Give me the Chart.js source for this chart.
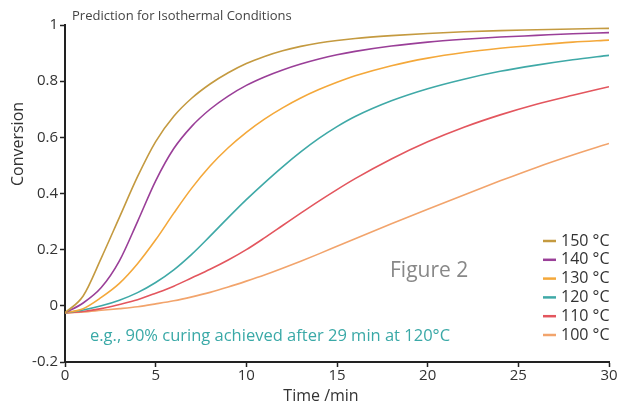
<!DOCTYPE html>
<html>
<head>
<meta charset="utf-8">
<script src="https://cdn.jsdelivr.net/npm/chart.js@4.4.1/dist/chart.umd.min.js"></script>
<style>
  body { margin: 0; background: #fff; }
  canvas { display: block; }
</style>
</head>
<body>
<canvas id="curingChart" width="620" height="405"></canvas>
<script>
// time points (min)
const times = [0, 1, 2, 3, 4, 5, 6, 7, 8, 9, 10, 11, 12, 13, 14, 15, 16, 18, 20, 22, 24, 26, 28, 30];

// conversion, one array per temperature
const conv150 = [-0.025, 0.035, 0.17, 0.315, 0.46, 0.585, 0.675, 0.74, 0.79, 0.83, 0.863, 0.888, 0.908, 0.924, 0.936, 0.945, 0.952, 0.962, 0.970, 0.976, 0.980, 0.983, 0.986, 0.988];
const conv140 = [-0.025, 0.01, 0.065, 0.16, 0.30, 0.445, 0.56, 0.64, 0.70, 0.747, 0.785, 0.815, 0.84, 0.861, 0.879, 0.894, 0.906, 0.925, 0.939, 0.949, 0.957, 0.963, 0.969, 0.973];
const conv130 = [-0.025, -0.01, 0.03, 0.08, 0.15, 0.235, 0.33, 0.42, 0.498, 0.563, 0.618, 0.665, 0.705, 0.74, 0.77, 0.796, 0.819, 0.855, 0.882, 0.902, 0.917, 0.929, 0.939, 0.946];
const conv120 = [-0.025, -0.015, 0.0, 0.02, 0.047, 0.083, 0.128, 0.184, 0.248, 0.314, 0.378, 0.438, 0.495, 0.548, 0.596, 0.638, 0.674, 0.73, 0.773, 0.807, 0.835, 0.857, 0.876, 0.892];
const conv110 = [-0.025, -0.02, -0.01, 0.005, 0.022, 0.045, 0.07, 0.10, 0.13, 0.163, 0.20, 0.242, 0.286, 0.33, 0.373, 0.414, 0.453, 0.523, 0.584, 0.636, 0.68, 0.718, 0.75, 0.78];
const conv100 = [-0.025, -0.022, -0.016, -0.01, -0.003, 0.007, 0.018, 0.032, 0.048, 0.067, 0.088, 0.11, 0.134, 0.159, 0.185, 0.212, 0.239, 0.292, 0.344, 0.395, 0.445, 0.493, 0.537, 0.578];

const seriesLabels = ["150 °C", "140 °C", "130 °C", "120 °C", "110 °C", "100 °C"];
const seriesValues = [conv150, conv140, conv130, conv120, conv110, conv100];
const seriesColors = ["#c49a40", "#9a3f98", "#f4a83a", "#3fa9a7", "#e3565e", "#f2a46c"];

const xTicks = [0, 5, 10, 15, 20, 25, 30];
const yTicks = [-0.2, 0, 0.2, 0.4, 0.6, 0.8, 1];

const FONT = "'Open Sans', 'Noto Sans', sans-serif";
const TEXT = "#333";

// legend, axis titles and notes placed like the original figure
const overlay = {
  id: "overlay",
  afterDraw(chart) {
    const ctx = chart.ctx;
    ctx.save();
    ctx.textBaseline = "middle";
    ctx.textAlign = "left";

    ctx.font = "13px " + FONT;
    ctx.fillStyle = "#444";
    ctx.fillText("Prediction for Isothermal Conditions", 72, 16);

    ctx.font = "21px " + FONT;
    ctx.fillStyle = "#888";
    ctx.fillText("Figure 2", 390, 271);

    ctx.font = "16.5px " + FONT;
    ctx.fillStyle = "#3aa9a7";
    ctx.fillText("e.g., 90% curing achieved after 29 min at 120°C", 90, 336);

    chart.data.datasets.forEach((ds, i) => {
      const y = 241 + i * 18.8;
      ctx.strokeStyle = ds.borderColor;
      ctx.lineWidth = 2.5;
      ctx.beginPath();
      ctx.moveTo(543, y);
      ctx.lineTo(556, y);
      ctx.stroke();
      ctx.font = "16px " + FONT;
      ctx.fillStyle = TEXT;
      ctx.fillText(ds.label, 561, y);
    });

    // axis titles
    ctx.font = "16px " + FONT;
    ctx.fillStyle = TEXT;
    ctx.textAlign = "center";
    ctx.fillText("Time /min", 321, 396);
    ctx.translate(18, 144);
    ctx.rotate(-Math.PI / 2);
    ctx.fillText("Conversion", 0, 0);
    ctx.restore();
  }
};

new Chart(document.getElementById("curingChart"), {
  type: "line",
  data: {
    datasets: seriesLabels.map((label, i) => ({
      label: label,
      data: times.map((t, j) => ({ x: t, y: seriesValues[i][j] })),
      borderColor: seriesColors[i],
      borderWidth: 1.6,
      pointRadius: 0,
      cubicInterpolationMode: "monotone",
      fill: false,
    })),
  },
  options: {
    responsive: false,
    animation: false,
    layout: { padding: { top: 25, right: 11, left: 0, bottom: 0 } },
    plugins: {
      legend: { display: false },
      tooltip: { enabled: false },
    },
    scales: {
      x: {
        type: "linear",
        min: 0,
        max: 30,
        afterFit: (s) => { s.height = 43; },
        afterBuildTicks: (s) => { s.ticks = xTicks.map((v) => ({ value: v })); },
        border: { color: "#222", width: 2 },
        grid: { drawOnChartArea: false, tickLength: 5, tickColor: "#222", tickWidth: 1.5 },
        ticks: { color: TEXT, font: { family: FONT, size: 15 }, padding: 0 },
      },
      y: {
        min: -0.2,
        max: 1,
        afterFit: (s) => { s.width = 65; },
        afterBuildTicks: (s) => { s.ticks = yTicks.map((v) => ({ value: v })); },
        border: { color: "#222", width: 2 },
        grid: { drawOnChartArea: false, tickLength: 5, tickColor: "#222", tickWidth: 1.5 },
        ticks: {
          color: TEXT,
          font: { family: FONT, size: 15 },
          padding: 2,
          callback: (v) => String(Math.round(v * 10) / 10),
        },
      },
    },
  },
  plugins: [overlay],
});
</script>
</body>
</html>
